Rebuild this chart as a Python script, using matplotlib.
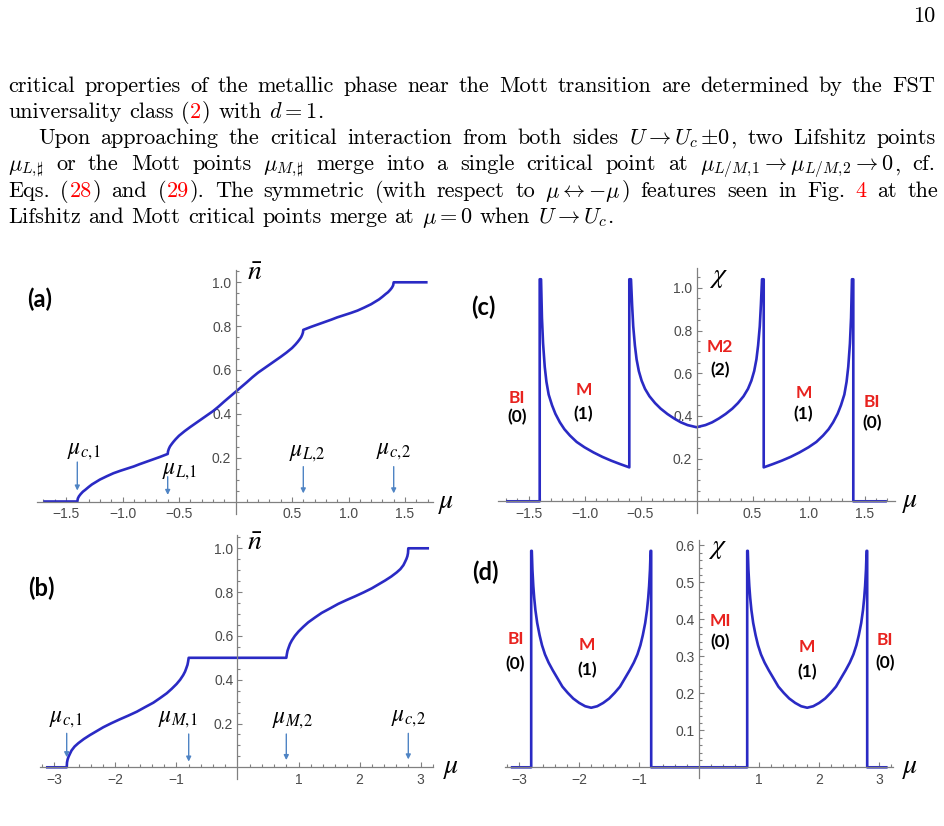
import matplotlib
matplotlib.use("Agg")
import matplotlib.pyplot as plt
from matplotlib.ticker import FixedLocator

W, H = 944, 826

# panel (a): mean density vs chemical potential
mu_a = [-1.7, -1.4, -1.395, -1.385, -1.37, -1.35, -1.33, -1.30, -1.27, -1.20, -1.14, -1.08, -1.02,
        -0.96, -0.90, -0.85, -0.79, -0.73, -0.67, -0.6,
        -0.597, -0.59, -0.58, -0.565, -0.55, -0.53, -0.50, -0.45, -0.40, -0.35, -0.30, -0.25,
        -0.20, -0.15, -0.10, -0.05, 0.0, 0.05, 0.10, 0.15, 0.20, 0.25, 0.30, 0.35, 0.40, 0.45,
        0.50, 0.53, 0.55, 0.565, 0.58, 0.59, 0.597, 0.6,
        0.67, 0.73, 0.79, 0.85, 0.90, 0.96, 1.02, 1.08, 1.14, 1.20, 1.27, 1.30, 1.33, 1.35, 1.37,
        1.385, 1.395, 1.4, 1.7]
n_a = [0.0, 0.0, 0.014, 0.024, 0.034, 0.045, 0.053, 0.066, 0.078, 0.100, 0.115, 0.129, 0.140,
       0.150, 0.160, 0.170, 0.181, 0.192, 0.203, 0.217,
       0.229, 0.240, 0.251, 0.262, 0.272, 0.284, 0.300, 0.321, 0.340, 0.358, 0.376, 0.394,
       0.412, 0.433, 0.456, 0.478, 0.500, 0.522, 0.544, 0.567, 0.588, 0.606, 0.624, 0.642, 0.660,
       0.679, 0.700, 0.716, 0.728, 0.738, 0.749, 0.760, 0.771, 0.783,
       0.797, 0.808, 0.819, 0.830, 0.840, 0.850, 0.860, 0.871, 0.885, 0.900, 0.922, 0.934, 0.947,
       0.955, 0.966, 0.976, 0.986, 1.0, 1.0]

# panel (b)
mu_b = [-3.14, -2.8, -2.795, -2.785, -2.77, -2.745, -2.72, -2.67, -2.61, -2.52, -2.42, -2.31,
        -2.20, -2.07, -1.93, -1.79, -1.65, -1.52, -1.38, -1.27, -1.16, -1.08, -1.00, -0.94,
        -0.89, -0.86, -0.84, -0.82, -0.81, -0.8,
        0.8, 0.81, 0.82, 0.84, 0.86, 0.89, 0.94, 1.00, 1.08, 1.16, 1.27, 1.38, 1.52, 1.65, 1.79,
        1.93, 2.07, 2.20, 2.31, 2.42, 2.52, 2.61, 2.67, 2.72, 2.745, 2.77, 2.785, 2.795, 2.8, 3.14]
n_b = [0.0, 0.0, 0.022, 0.036, 0.048, 0.063, 0.077, 0.095, 0.110, 0.129, 0.147, 0.165,
       0.183, 0.201, 0.219, 0.236, 0.254, 0.274, 0.295, 0.316, 0.338, 0.358, 0.380, 0.400,
       0.421, 0.437, 0.452, 0.468, 0.482, 0.5,
       0.5, 0.518, 0.532, 0.548, 0.563, 0.579, 0.600, 0.620, 0.642, 0.662, 0.684, 0.705, 0.726,
       0.746, 0.764, 0.781, 0.799, 0.817, 0.835, 0.853, 0.871, 0.890, 0.905, 0.923, 0.937,
       0.952, 0.964, 0.978, 1.0, 1.0]

# panel (c): susceptibility
mu_c = [-1.7, -1.4, -1.4, -1.388, -1.38, -1.37, -1.355, -1.34, -1.32, -1.29, -1.26, -1.22, -1.18,
        -1.13, -1.07, -1.00, -0.92, -0.84, -0.76, -0.68, -0.6,
        -0.6, -0.585, -0.575, -0.565, -0.55, -0.535, -0.515, -0.49, -0.46, -0.42, -0.37, -0.32,
        -0.26, -0.20, -0.14, -0.08, 0.0, 0.08, 0.14, 0.20, 0.26, 0.32, 0.37, 0.42, 0.46, 0.49,
        0.515, 0.535, 0.55, 0.565, 0.575, 0.585, 0.6,
        0.6, 0.68, 0.76, 0.84, 0.92, 1.00, 1.07, 1.13, 1.18, 1.22, 1.26, 1.29, 1.32, 1.34, 1.355,
        1.37, 1.38, 1.388, 1.4, 1.4, 1.7]
chi_c = [0.0, 0.0, 1.04, 1.04, 0.86, 0.74, 0.63, 0.56, 0.50, 0.45, 0.41, 0.37, 0.338,
         0.308, 0.278, 0.253, 0.229, 0.208, 0.190, 0.174, 0.159,
         1.04, 1.04, 0.92, 0.82, 0.73, 0.665, 0.61, 0.565, 0.527, 0.492, 0.460, 0.434,
         0.409, 0.388, 0.370, 0.357, 0.347, 0.357, 0.370, 0.388, 0.409, 0.434, 0.460, 0.492, 0.527,
         0.565, 0.61, 0.665, 0.73, 0.82, 0.92, 1.04, 1.04,
         0.159, 0.174, 0.190, 0.208, 0.229, 0.253, 0.278, 0.308, 0.338, 0.37, 0.41, 0.45, 0.50,
         0.56, 0.63, 0.74, 0.86, 1.04, 1.04, 0.0, 0.0]

# panel (d)
mu_d = [-3.14, -2.8, -2.8, -2.79, -2.78, -2.765, -2.75, -2.73, -2.70, -2.66, -2.62, -2.57, -2.51,
        -2.44, -2.36, -2.28, -2.19, -2.10, -2.00, -1.90, -1.80, -1.70, -1.60, -1.50, -1.41, -1.32,
        -1.24, -1.16, -1.09, -1.03, -0.98, -0.94, -0.90, -0.87, -0.85, -0.835, -0.82, -0.81,
        -0.8, -0.8,
        0.8, 0.8, 0.81, 0.82, 0.835, 0.85, 0.87, 0.90, 0.94, 0.98, 1.03, 1.09, 1.16, 1.24, 1.32,
        1.41, 1.50, 1.60, 1.70, 1.80, 1.90, 2.00, 2.10, 2.19, 2.28, 2.36, 2.44, 2.51, 2.57, 2.62,
        2.66, 2.70, 2.73, 2.75, 2.765, 2.78, 2.79, 2.8, 2.8, 3.14]
chi_d = [0.0, 0.0, 0.585, 0.585, 0.535, 0.490, 0.458, 0.425, 0.390, 0.357, 0.330, 0.305, 0.283,
         0.262, 0.240, 0.218, 0.201, 0.186, 0.174, 0.165, 0.161, 0.165, 0.174, 0.186, 0.201, 0.218,
         0.240, 0.262, 0.283, 0.305, 0.330, 0.357, 0.390, 0.425, 0.458, 0.490, 0.535, 0.585,
         0.585, 0.0,
         0.0, 0.585, 0.585, 0.535, 0.490, 0.458, 0.425, 0.390, 0.357, 0.330, 0.305, 0.283, 0.262,
         0.240, 0.218, 0.201, 0.186, 0.174, 0.165, 0.161, 0.165, 0.174, 0.186, 0.201, 0.218,
         0.240, 0.262, 0.283, 0.305, 0.330, 0.357, 0.390, 0.425, 0.458, 0.490, 0.535, 0.585,
         0.585, 0.0, 0.0]

# critical points marked with arrows: (label, mu, arrow tail, arrow tip, label x, label y)
arrows_a = [(r'$\mu_{c,\!1}$', -1.4, 0.18, 0.05, -1.34, 0.235),
            (r'$\mu_{L,\!1}$', -0.6, 0.113, 0.03, -0.49, 0.144),
            (r'$\mu_{L,\!2}$', 0.6, 0.159, 0.037, 0.64, 0.226),
            (r'$\mu_{c,\!2}$', 1.4, 0.159, 0.037, 1.40, 0.235)]
arrows_b = [(r'$\mu_{c,\!1}$', -2.8, 0.155, 0.046, -2.82, 0.224),
            (r'$\mu_{M,\!1}$', -0.8, 0.152, 0.026, -0.97, 0.224),
            (r'$\mu_{M,\!2}$', 0.8, 0.152, 0.033, 0.905, 0.219),
            (r'$\mu_{c,\!2}$', 2.8, 0.155, 0.036, 2.80, 0.231)]

# phase names and number of Fermi points: (phase, count, x, y phase, y count)
phases_c = [('BI', '(0)', -1.605, 0.482, 0.396), ('M', '(1)', -1.01, 0.521, 0.409),
            ('M2', '(2)', 0.21, 0.721, 0.615), ('M', '(1)', 0.954, 0.509, 0.409),
            ('BI', '(0)', 1.564, 0.467, 0.365)]
phases_d = [('BI', '(0)', -3.06, 0.346, 0.278), ('M', '(1)', -1.865, 0.331, 0.263),
            ('MI', '(0)', 0.35, 0.396, 0.339), ('M', '(1)', 1.80, 0.326, 0.258),
            ('BI', '(0)', 3.10, 0.344, 0.281)]

ticks_small = [-1.5, -1.0, -0.5, 0.5, 1.0, 1.5]
ticks_big = [-3, -2, -1, 1, 2, 3]
yticks_n = [0.2, 0.4, 0.6, 0.8, 1.0]
yticks_d = [0.1, 0.2, 0.3, 0.4, 0.5, 0.6]

# page text: each line is a list of words, each word a list of (text, colour)
K, R = 'black', '#ff0000'
lines = [
    [[(w, K)] for w in 'critical properties of the metallic phase near the Mott transition are determined by the FST'.split()],
    [[('universality', K)], [('class', K)], [('(', K), ('2', R), (')', K)], [('with', K)], [(r'$d=1$', K), ('.', K)]],
    [[(w, K)] for w in 'Upon approaching the critical interaction from both sides'.split()]
    + [[(r'$U\rightarrow U_c\,{\pm}0$', K), (',', K)]]
    + [[(w, K)] for w in 'two Lifshitz points'.split()],
    [[(r'$\mu_{L,\!\sharp}$', K)]] + [[(w, K)] for w in 'or the Mott points'.split()]
    + [[(r'$\mu_{M,\!\sharp}$', K)]] + [[(w, K)] for w in 'merge into a single critical point at'.split()]
    + [[(r'$\mu_{L/M,\!1}\rightarrow\mu_{L/M,\!2}\rightarrow0$', K), (',', K)], [('cf.', K)]],
    [[('Eqs.', K)], [('(', K), ('28', R), (')', K)], [('and', K)], [('(', K), ('29', R), (').', K)],
     [('The', K)], [('symmetric', K)], [('(with', K)], [('respect', K)], [('to', K)],
     [(r'$\mu\leftrightarrow{-}\mu$', K), (')', K)], [('features', K)], [('seen', K)], [('in', K)],
     [('Fig.', K)], [('4', R)], [('at', K)], [('the', K)]],
    [[(w, K)] for w in 'Lifshitz and Mott critical points merge at'.split()]
    + [[(r'$\mu=0$', K)], [('when', K)], [(r'$U\rightarrow U_c$', K), ('.', K)]],
]
justify = [True, False, True, True, True, False]
indent = [0, 0, 30, 0, 0, 0]

fig = plt.figure(figsize=(W / 100, H / 100), dpi=100)
renderer = fig.canvas.get_renderer()
body_size = 16

for i, words in enumerate(lines):
    base = 91.5 + 26.3 * i
    x_left, x_right = 8 + indent[i], 935
    placed = []
    for word in words:
        parts = []
        for s, c in word:
            t = fig.text(0, 1 - base / H, s, color=c, fontsize=body_size, family='cmr10',
                         math_fontfamily='cm', va='baseline', ha='left')
            parts.append((t, t.get_window_extent(renderer).width))
        placed.append(parts)
    widths = [sum(w for _, w in p) for p in placed]
    if justify[i]:
        gap = (x_right - x_left - sum(widths)) / (len(words) - 1)
    else:
        gap = body_size * 100 / 72 * 0.34
    x = x_left
    for parts in placed:
        for t, w in parts:
            t.set_x(x / W)
            x += w + 0.6
        x += gap - 0.6

fig.text(935 / W, 1 - 22 / H, '10', fontsize=body_size, family='cmr10', ha='right', va='baseline')

BLUE = '#2a2ac4'
ARROW = '#4f84c4'
GRAY = '#808080'


def make_axes(x0, y0, sx, sy, xlim, ylim):
    left = x0 + xlim[0] * sx
    right = x0 + xlim[1] * sx
    top = y0 - ylim[1] * sy
    bottom = y0 - ylim[0] * sy
    ax = fig.add_axes([left / W, 1 - bottom / H, (right - left) / W, (bottom - top) / H])
    ax.set_xlim(xlim)
    ax.set_ylim(ylim)
    ax.patch.set_visible(False)
    for s in ['top', 'right']:
        ax.spines[s].set_visible(False)
    for s in ['left', 'bottom']:
        ax.spines[s].set_position(('data', 0))
        ax.spines[s].set_color(GRAY)
        ax.spines[s].set_linewidth(0.9)
    ax.tick_params(which='both', direction='in', color=GRAY, labelcolor='#4a4a4a',
                   labelsize=10, width=0.8)
    ax.tick_params(which='major', length=3.5)
    ax.tick_params(which='minor', length=2)
    ax.tick_params(axis='x', pad=4)
    ax.tick_params(axis='y', pad=3)
    return ax


def fmt(v, dec):
    s = f'{abs(v):.{dec}f}'
    return ('\u2212' + s) if v < 0 else s


def set_ticks(ax, xt, xdec, xminor, yt, yminor):
    ax.set_xticks(xt, [fmt(v, xdec) for v in xt])
    ax.set_yticks(yt, [fmt(v, 1) for v in yt])
    ax.xaxis.set_minor_locator(FixedLocator(xminor))
    ax.yaxis.set_minor_locator(FixedLocator(yminor))
    for lab in ax.get_xticklabels() + ax.get_yticklabels():
        lab.set_family('Liberation Sans')


def minor_list(lo, hi, step, skip):
    out = []
    k = lo
    while k <= hi + 1e-9:
        v = round(k, 4)
        if abs(v) > 1e-9 and all(abs(v - m) > 1e-6 for m in skip):
            out.append(v)
        k += step
    return out


def axis_names(ax, xname, yname):
    ax.text(xname[0], xname[1], r'$\mu$', fontsize=20, math_fontfamily='stix',
            ha='center', va='center', clip_on=False)
    ax.text(yname[0], yname[1], yname[2], fontsize=20, math_fontfamily='stix',
            ha='center', va='center', clip_on=False)


def draw_arrows(ax, items):
    for lab, x, tail, tip, lx, ly in items:
        ax.annotate('', xy=(x, tip), xytext=(x, tail),
                    arrowprops=dict(arrowstyle='-|>', color=ARROW, lw=1.0,
                                    mutation_scale=7, shrinkA=0, shrinkB=0))
        ax.text(lx, ly, lab, fontsize=17, math_fontfamily='stix', ha='center', va='center')


def draw_phases(ax, items):
    for ph, cnt, x, yp, yc in items:
        ax.text(x, yp, ph, color='#e8231f', fontsize=12.5, family='Lato', weight='bold',
                ha='center', va='center')
        ax.text(x, yc, cnt, color='black', fontsize=12.5, family='Lato', weight='bold',
                ha='center', va='center')


line_kw = dict(color=BLUE, lw=1.9, solid_joinstyle='round', solid_capstyle='butt', clip_on=False)

# (a)
ax_a = make_axes(235.5, 501.5, 113, 219.2, (-1.76, 1.75), (-0.055, 1.055))
set_ticks(ax_a, ticks_small, 1, minor_list(-1.7, 1.7, 0.1, ticks_small), yticks_n,
          minor_list(0.05, 1.05, 0.05, yticks_n))
ax_a.plot(mu_a, n_a, **line_kw)
draw_arrows(ax_a, arrows_a)
axis_names(ax_a, (1.863, 0.0), (0.173, 1.047, r'$\bar{n}$'))

# (b)
ax_b = make_axes(237.5, 767.3, 61, 219, (-3.24, 3.2), (-0.055, 1.06))
set_ticks(ax_b, ticks_big, 0, minor_list(-3.2, 3.2, 0.2, ticks_big), yticks_n,
          minor_list(0.05, 1.05, 0.05, yticks_n))
ax_b.plot(mu_b, n_b, **line_kw)
draw_arrows(ax_b, arrows_b)
axis_names(ax_b, (3.50, 0.0), (0.287, 1.029, r'$\bar{n}$'))

# (c)
ax_c = make_axes(696.5, 501.3, 112, 213.5, (-1.77, 1.77), (-0.055, 1.095))
set_ticks(ax_c, ticks_small, 1, minor_list(-1.7, 1.7, 0.1, ticks_small), yticks_n,
          minor_list(0.05, 1.05, 0.05, yticks_n))
ax_c.plot(mu_c, chi_c, **line_kw)
draw_phases(ax_c, phases_c)
axis_names(ax_c, (1.906, 0.0), (0.192, 1.055, r'$\chi$'))

# (d)
ax_d = make_axes(699.2, 767.3, 60, 370, (-3.24, 3.235), (-0.03, 0.614))
set_ticks(ax_d, ticks_big, 0, minor_list(-3.2, 3.2, 0.2, ticks_big), yticks_d,
          minor_list(0.02, 0.6, 0.02, yticks_d))
ax_d.plot(mu_d, chi_d, **line_kw)
draw_phases(ax_d, phases_d)
axis_names(ax_d, (3.51, 0.0), (0.297, 0.595, r'$\chi$'))

for lab, x, y in [('(a)', 40, 299), ('(b)', 41, 588), ('(c)', 483, 307), ('(d)', 485, 572)]:
    fig.text(x / W, 1 - y / H, lab, fontsize=17, family='Lato', weight='bold',
             ha='center', va='center')

fig.savefig('out.png', dpi=100)
